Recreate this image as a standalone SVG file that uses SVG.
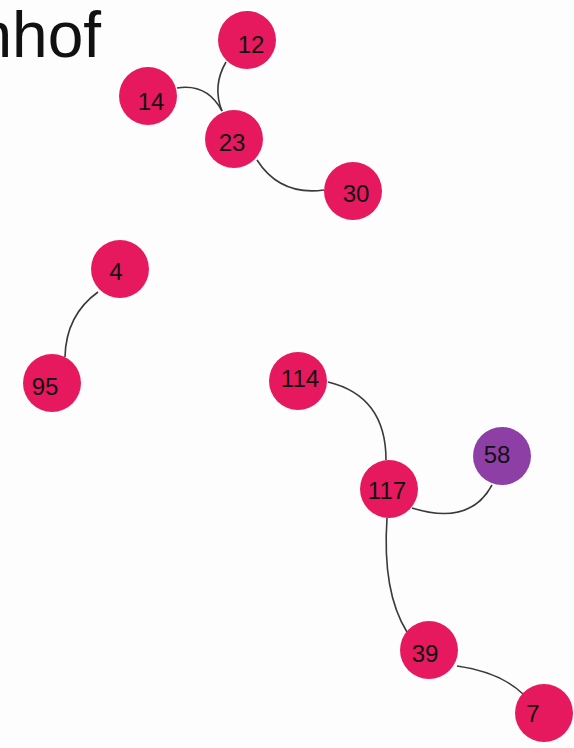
<svg xmlns="http://www.w3.org/2000/svg" width="574" height="748" viewBox="0 0 574 748">
<style>
.n{fill:#E6185E}
.p{fill:#8E3FA6}
.t{font-family:"Liberation Sans",Arial,sans-serif;font-size:24px;fill:#111;text-anchor:middle}
.e{fill:none;stroke:#3a3a3a;stroke-width:1.6}
</style>
<rect width="574" height="748" fill="#fdfdfd"/>
<text x="101" y="57" font-family="Liberation Sans, Arial, sans-serif" font-size="64" fill="#111" text-anchor="end">nhof</text>
<g id="edges">
<path class="e" d="M226,62 Q212,86 222,111"/>
<path class="e" d="M177,88 Q207,83 222,111"/>
<path class="e" d="M257,160 Q280,196 324,190"/>
<path class="e" d="M98,292 Q66,315 65,357"/>
<path class="e" d="M328,382 Q386,396 386,460"/>
<path class="e" d="M412,508 Q470,526 492,485"/>
<path class="e" d="M387,518 Q382,592 407,632"/>
<path class="e" d="M457,666 Q500,672 523,694"/>
</g>
<g id="n12"><circle class="n" cx="247" cy="40" r="29"/><text class="t" x="251" y="53">12</text></g>
<g id="n14"><circle class="n" cx="148" cy="96" r="29"/><text class="t" x="151" y="110">14</text></g>
<g id="n23"><circle class="n" cx="234" cy="139" r="29"/><text class="t" x="232" y="151">23</text></g>
<g id="n30"><circle class="n" cx="353" cy="191" r="29"/><text class="t" x="356" y="202">30</text></g>
<g id="n4"><circle class="n" cx="120" cy="269" r="29"/><text class="t" x="116" y="280">4</text></g>
<g id="n95"><circle class="n" cx="52" cy="383" r="29"/><text class="t" x="45" y="395">95</text></g>
<g id="n114"><circle class="n" cx="298" cy="381" r="29"/><text class="t" x="300" y="387">114</text></g>
<g id="n58"><circle class="p" cx="502" cy="456" r="29"/><text class="t" x="497" y="463">58</text></g>
<g id="n117"><circle class="n" cx="389" cy="489" r="29"/><text class="t" x="387" y="499">117</text></g>
<g id="n39"><circle class="n" cx="429" cy="650" r="29"/><text class="t" x="425" y="662">39</text></g>
<g id="n7"><circle class="n" cx="544" cy="713" r="29"/><text class="t" x="533" y="722">7</text></g>
</svg>
